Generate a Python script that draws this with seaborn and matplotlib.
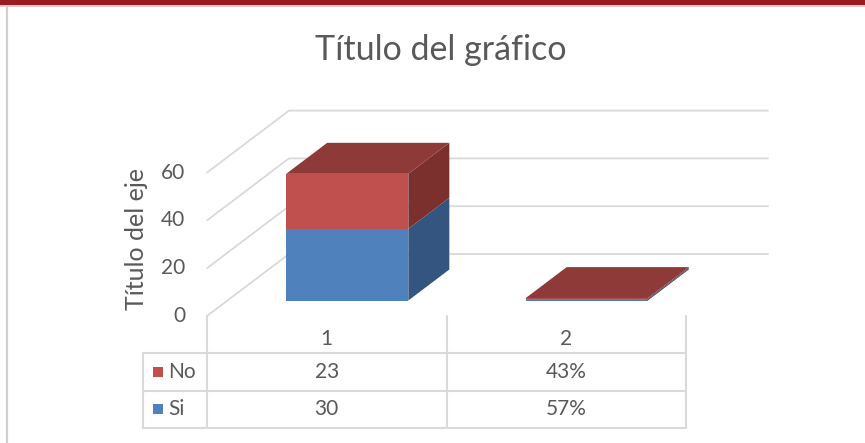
import numpy as np
import pandas as pd
import seaborn as sns
import matplotlib.pyplot as plt
from matplotlib.patches import Polygon, Rectangle
from matplotlib.lines import Line2D

# data
categories = ["1", "2"]
si = [30, 0.57]
no = [23, 0.43]
value_ticks = [0, 20, 40, 60]

BLUE = "#4F81BD"
BLUE_SIDE = "#34557F"
RED = "#C0504D"
RED_SIDE = "#7C302E"
RED_TOP = "#8E3A38"
GRID = "#D9D9D9"
TEXT = "#595959"
FS = 15

sns.set_theme(style="white")
plt.rcParams['font.family'] = ['Lato', 'DejaVu Sans']

W, H = 865, 443
fig = plt.figure(figsize=(W / 100, H / 100), dpi=100)


def fx(px):
    return px / W


def fy(py):
    return 1 - py / H


# axes = plane of the bar fronts
ax = fig.add_axes([fx(227.5), fy(300.5), 479 / W, 143.4 / H])

df = pd.DataFrame({"cat": categories, "Si": si, "No": no})
df["total"] = df["Si"] + df["No"]

sns.barplot(data=df, x="cat", y="total", color=RED, saturation=1, width=0.51,
            linewidth=0, errorbar=None, ax=ax, zorder=3)
sns.barplot(data=df, x="cat", y="Si", color=BLUE, saturation=1, width=0.51,
            linewidth=0, errorbar=None, ax=ax, zorder=3)
tot_bars = ax.patches[:len(categories)]
si_bars = ax.patches[len(categories):2 * len(categories)]

ax.set_xlim(-0.5, len(categories) - 0.5)
ax.set_ylim(value_ticks[0], value_ticks[-1])
ax.axis('off')

# depth of the 3d floor in data units
Dx = 82 / 239.5
Dy = 62 / 2.39

# walls and gridlines
for v in value_ticks:
    xs = [-0.5 - 0.25 * Dx, -0.5 + 0.75 * Dx, len(categories) - 0.5 + 0.75 * Dx]
    ys = [v - 0.25 * Dy, v + 0.75 * Dy, v + 0.75 * Dy]
    ax.plot(xs, ys, color=GRID, lw=1.3, clip_on=False, zorder=0)
    ax.annotate(str(v), (xs[0], ys[0]), xytext=(-22, 0), textcoords='offset pixels',
                ha='right', va='center', fontsize=FS, color=TEXT, annotation_clip=False)

# top and side faces of the bars
dx, dy = 0.5 * Dx, 0.5 * Dy
for tb, sb in zip(tot_bars, si_bars):
    x0 = tb.get_x()
    x1 = x0 + tb.get_width()
    h_si = sb.get_height()
    h_tot = tb.get_height()
    faces = [
        ([(x1, 0), (x1, h_si), (x1 + dx, h_si + dy), (x1 + dx, dy)], BLUE_SIDE),
        ([(x1, h_si), (x1, h_tot), (x1 + dx, h_tot + dy), (x1 + dx, h_si + dy)], RED_SIDE),
        ([(x0, h_tot), (x1, h_tot), (x1 + dx, h_tot + dy), (x0 + dx, h_tot + dy)], RED_TOP),
    ]
    for pts, c in faces:
        ax.add_patch(Polygon(pts, closed=True, facecolor=c, edgecolor='none',
                             clip_on=False, zorder=3))

# data table
axt = fig.add_axes([fx(207), fy(428), 479 / W, 112 / H])
axt.set_xlim(-0.5, len(categories) - 0.5)
axt.set_ylim(3, 0)
axt.axis('off')

bounds = np.arange(len(categories) + 1) - 0.5
leg_left = -0.5 - 64 / 239.5
for y in [1, 2, 3]:
    axt.plot([leg_left, bounds[-1]], [y, y], color=GRID, lw=1.5, clip_on=False)
for b in bounds:
    axt.plot([b, b], [0, 3], color=GRID, lw=1.5, clip_on=False)
axt.plot([leg_left, leg_left], [1, 3], color=GRID, lw=1.5, clip_on=False)

for i, c in enumerate(categories):
    axt.text(i, 0.62, c, ha='center', va='center', fontsize=FS, color=TEXT)


def fmt(v):
    return f"{v:g}" if v >= 1 else f"{v:.0%}"


rows = [("No", no, RED), ("Si", si, BLUE)]
for r, (name, vals, col) in enumerate(rows):
    yc = r + 1.5
    axt.scatter([leg_left + 14.5 / 239.5], [yc], marker='s', s=62, color=col,
                linewidths=0, clip_on=False)
    axt.text(leg_left + 25 / 239.5, yc, name, ha='left', va='center',
             fontsize=FS, color=TEXT)
    for i, v in enumerate(vals):
        axt.text(i, yc, fmt(v), ha='center', va='center', fontsize=FS, color=TEXT)

# titles
fig.text(fx(441), fy(60), "Título del gráfico", ha='center', va='baseline',
         fontsize=24.5, color=TEXT)
fig.text(fx(136), fy(239), "Título del eje", rotation=90, ha='center', va='center',
         fontsize=18, color=TEXT)

# frame
fig.patches.append(Rectangle((0, fy(5)), 1, 5 / H, transform=fig.transFigure,
                             facecolor="#9A1B21", edgecolor='none'))
fig.patches.append(Rectangle((0, fy(7)), 1, 2 / H, transform=fig.transFigure,
                             facecolor="#E6C8CA", edgecolor='none'))
fig.lines.append(Line2D([fx(7.5), fx(7.5)], [0, fy(7)], transform=fig.transFigure,
                        color="#D0D0D0", lw=1.5))

fig.savefig("out.png", dpi=100)
